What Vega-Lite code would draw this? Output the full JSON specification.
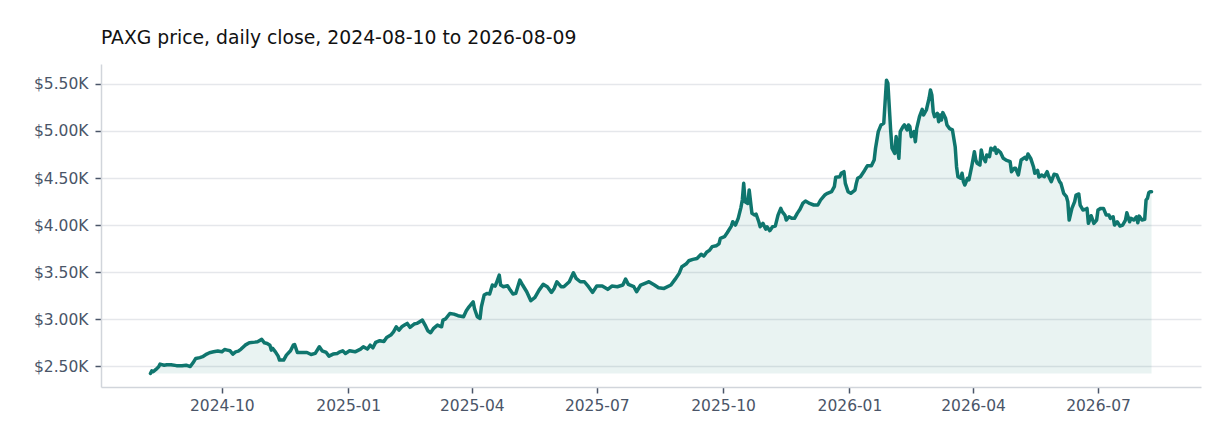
{
  "$schema": "https://vega.github.io/schema/vega-lite/v6.json",
  "width": 1100,
  "height": 323,
  "autosize": {"type": "none"},
  "padding": {"left": 101, "top": 64, "right": 31, "bottom": 61},
  "background": "white",
  "title": {
    "text": "PAXG price, daily close, 2024-08-10 to 2026-08-09",
    "anchor": "start",
    "frame": "group",
    "font": "DejaVu Sans",
    "fontSize": 18.8,
    "fontWeight": "normal",
    "color": "#111111",
    "offset": 16
  },
  "data": {
    "values": [
      {"date": "2024-08-10", "close": 2422},
      {"date": "2024-08-11", "close": 2450},
      {"date": "2024-08-12", "close": 2440},
      {"date": "2024-08-14", "close": 2465},
      {"date": "2024-08-16", "close": 2493},
      {"date": "2024-08-17", "close": 2521},
      {"date": "2024-08-20", "close": 2510},
      {"date": "2024-08-22", "close": 2515},
      {"date": "2024-08-25", "close": 2515},
      {"date": "2024-08-29", "close": 2505},
      {"date": "2024-09-02", "close": 2503},
      {"date": "2024-09-05", "close": 2510},
      {"date": "2024-09-08", "close": 2495},
      {"date": "2024-09-10", "close": 2535},
      {"date": "2024-09-12", "close": 2582},
      {"date": "2024-09-15", "close": 2590},
      {"date": "2024-09-17", "close": 2600},
      {"date": "2024-09-20", "close": 2628},
      {"date": "2024-09-22", "close": 2642},
      {"date": "2024-09-25", "close": 2652},
      {"date": "2024-09-28", "close": 2660},
      {"date": "2024-10-01", "close": 2652},
      {"date": "2024-10-03", "close": 2677},
      {"date": "2024-10-05", "close": 2670},
      {"date": "2024-10-07", "close": 2663},
      {"date": "2024-10-09", "close": 2628},
      {"date": "2024-10-11", "close": 2652},
      {"date": "2024-10-13", "close": 2660},
      {"date": "2024-10-15", "close": 2681},
      {"date": "2024-10-18", "close": 2723},
      {"date": "2024-10-21", "close": 2748},
      {"date": "2024-10-25", "close": 2755},
      {"date": "2024-10-27", "close": 2760},
      {"date": "2024-10-30", "close": 2784},
      {"date": "2024-11-01", "close": 2748},
      {"date": "2024-11-03", "close": 2741},
      {"date": "2024-11-05", "close": 2723},
      {"date": "2024-11-06", "close": 2670},
      {"date": "2024-11-07", "close": 2688},
      {"date": "2024-11-09", "close": 2652},
      {"date": "2024-11-11", "close": 2606},
      {"date": "2024-11-12", "close": 2564},
      {"date": "2024-11-15", "close": 2564},
      {"date": "2024-11-17", "close": 2617},
      {"date": "2024-11-20", "close": 2663},
      {"date": "2024-11-22", "close": 2723},
      {"date": "2024-11-23", "close": 2730},
      {"date": "2024-11-25", "close": 2645},
      {"date": "2024-11-28", "close": 2645},
      {"date": "2024-12-02", "close": 2645},
      {"date": "2024-12-05", "close": 2624},
      {"date": "2024-12-08", "close": 2635},
      {"date": "2024-12-11", "close": 2706},
      {"date": "2024-12-13", "close": 2663},
      {"date": "2024-12-16", "close": 2645},
      {"date": "2024-12-18", "close": 2606},
      {"date": "2024-12-21", "close": 2628},
      {"date": "2024-12-24", "close": 2635},
      {"date": "2024-12-26", "close": 2652},
      {"date": "2024-12-28", "close": 2663},
      {"date": "2024-12-30", "close": 2635},
      {"date": "2025-01-02", "close": 2663},
      {"date": "2025-01-06", "close": 2652},
      {"date": "2025-01-10", "close": 2681},
      {"date": "2025-01-12", "close": 2706},
      {"date": "2025-01-15", "close": 2681},
      {"date": "2025-01-17", "close": 2723},
      {"date": "2025-01-19", "close": 2695},
      {"date": "2025-01-21", "close": 2752},
      {"date": "2025-01-24", "close": 2770},
      {"date": "2025-01-27", "close": 2762},
      {"date": "2025-01-29", "close": 2805},
      {"date": "2025-02-01", "close": 2830},
      {"date": "2025-02-03", "close": 2865},
      {"date": "2025-02-05", "close": 2918},
      {"date": "2025-02-07", "close": 2883},
      {"date": "2025-02-09", "close": 2918},
      {"date": "2025-02-11", "close": 2936},
      {"date": "2025-02-13", "close": 2954},
      {"date": "2025-02-15", "close": 2912},
      {"date": "2025-02-18", "close": 2947},
      {"date": "2025-02-20", "close": 2954},
      {"date": "2025-02-24", "close": 2989},
      {"date": "2025-02-26", "close": 2936},
      {"date": "2025-02-28", "close": 2876},
      {"date": "2025-03-02", "close": 2855},
      {"date": "2025-03-04", "close": 2898},
      {"date": "2025-03-07", "close": 2936},
      {"date": "2025-03-10", "close": 2918},
      {"date": "2025-03-11", "close": 2989},
      {"date": "2025-03-13", "close": 3003},
      {"date": "2025-03-16", "close": 3060},
      {"date": "2025-03-19", "close": 3053},
      {"date": "2025-03-22", "close": 3036},
      {"date": "2025-03-26", "close": 3025},
      {"date": "2025-03-28", "close": 3088},
      {"date": "2025-03-30", "close": 3131},
      {"date": "2025-04-02", "close": 3184},
      {"date": "2025-04-03", "close": 3110},
      {"date": "2025-04-05", "close": 3025},
      {"date": "2025-04-07", "close": 3007},
      {"date": "2025-04-08", "close": 3131},
      {"date": "2025-04-10", "close": 3255},
      {"date": "2025-04-12", "close": 3273},
      {"date": "2025-04-14", "close": 3266},
      {"date": "2025-04-16", "close": 3362},
      {"date": "2025-04-18", "close": 3351},
      {"date": "2025-04-19", "close": 3386},
      {"date": "2025-04-21", "close": 3468},
      {"date": "2025-04-22", "close": 3362},
      {"date": "2025-04-24", "close": 3344},
      {"date": "2025-04-27", "close": 3355},
      {"date": "2025-04-29", "close": 3308},
      {"date": "2025-05-01", "close": 3266},
      {"date": "2025-05-03", "close": 3273},
      {"date": "2025-05-06", "close": 3415},
      {"date": "2025-05-08", "close": 3362},
      {"date": "2025-05-11", "close": 3291},
      {"date": "2025-05-14", "close": 3195},
      {"date": "2025-05-17", "close": 3231},
      {"date": "2025-05-20", "close": 3308},
      {"date": "2025-05-23", "close": 3369},
      {"date": "2025-05-26", "close": 3344},
      {"date": "2025-05-29", "close": 3284},
      {"date": "2025-05-31", "close": 3326},
      {"date": "2025-06-02", "close": 3397},
      {"date": "2025-06-05", "close": 3344},
      {"date": "2025-06-07", "close": 3344},
      {"date": "2025-06-11", "close": 3397},
      {"date": "2025-06-14", "close": 3493},
      {"date": "2025-06-16", "close": 3433},
      {"date": "2025-06-19", "close": 3397},
      {"date": "2025-06-22", "close": 3397},
      {"date": "2025-06-25", "close": 3344},
      {"date": "2025-06-28", "close": 3284},
      {"date": "2025-07-01", "close": 3351},
      {"date": "2025-07-05", "close": 3351},
      {"date": "2025-07-09", "close": 3316},
      {"date": "2025-07-12", "close": 3351},
      {"date": "2025-07-16", "close": 3344},
      {"date": "2025-07-20", "close": 3362},
      {"date": "2025-07-22", "close": 3426},
      {"date": "2025-07-24", "close": 3369},
      {"date": "2025-07-28", "close": 3344},
      {"date": "2025-07-30", "close": 3291},
      {"date": "2025-08-02", "close": 3362},
      {"date": "2025-08-06", "close": 3386},
      {"date": "2025-08-08", "close": 3397},
      {"date": "2025-08-12", "close": 3362},
      {"date": "2025-08-15", "close": 3333},
      {"date": "2025-08-19", "close": 3326},
      {"date": "2025-08-24", "close": 3362},
      {"date": "2025-08-27", "close": 3422},
      {"date": "2025-08-30", "close": 3486},
      {"date": "2025-09-01", "close": 3557},
      {"date": "2025-09-04", "close": 3585},
      {"date": "2025-09-06", "close": 3620},
      {"date": "2025-09-09", "close": 3635},
      {"date": "2025-09-12", "close": 3645},
      {"date": "2025-09-15", "close": 3690},
      {"date": "2025-09-17", "close": 3670},
      {"date": "2025-09-19", "close": 3710},
      {"date": "2025-09-21", "close": 3730},
      {"date": "2025-09-23", "close": 3770},
      {"date": "2025-09-26", "close": 3780},
      {"date": "2025-09-28", "close": 3800},
      {"date": "2025-09-29", "close": 3858},
      {"date": "2025-10-02", "close": 3876},
      {"date": "2025-10-04", "close": 3918},
      {"date": "2025-10-07", "close": 3989},
      {"date": "2025-10-08", "close": 4035},
      {"date": "2025-10-10", "close": 4000},
      {"date": "2025-10-12", "close": 4071},
      {"date": "2025-10-14", "close": 4188},
      {"date": "2025-10-15", "close": 4266},
      {"date": "2025-10-16", "close": 4443},
      {"date": "2025-10-17", "close": 4248},
      {"date": "2025-10-19", "close": 4230},
      {"date": "2025-10-20", "close": 4372},
      {"date": "2025-10-22", "close": 4124},
      {"date": "2025-10-24", "close": 4106},
      {"date": "2025-10-25", "close": 4117},
      {"date": "2025-10-27", "close": 4035},
      {"date": "2025-10-28", "close": 3982},
      {"date": "2025-10-30", "close": 4018},
      {"date": "2025-11-01", "close": 3957},
      {"date": "2025-11-02", "close": 3982},
      {"date": "2025-11-04", "close": 3940},
      {"date": "2025-11-06", "close": 3982},
      {"date": "2025-11-08", "close": 3989},
      {"date": "2025-11-10", "close": 4106},
      {"date": "2025-11-12", "close": 4177},
      {"date": "2025-11-13", "close": 4142},
      {"date": "2025-11-15", "close": 4106},
      {"date": "2025-11-16", "close": 4053},
      {"date": "2025-11-18", "close": 4088},
      {"date": "2025-11-20", "close": 4071},
      {"date": "2025-11-22", "close": 4071},
      {"date": "2025-11-24", "close": 4124},
      {"date": "2025-11-26", "close": 4167},
      {"date": "2025-11-28", "close": 4230},
      {"date": "2025-11-30", "close": 4255},
      {"date": "2025-12-03", "close": 4230},
      {"date": "2025-12-06", "close": 4213},
      {"date": "2025-12-09", "close": 4213},
      {"date": "2025-12-11", "close": 4266},
      {"date": "2025-12-14", "close": 4319},
      {"date": "2025-12-16", "close": 4337},
      {"date": "2025-12-19", "close": 4355},
      {"date": "2025-12-21", "close": 4408},
      {"date": "2025-12-22", "close": 4507},
      {"date": "2025-12-25", "close": 4514},
      {"date": "2025-12-26", "close": 4550},
      {"date": "2025-12-28", "close": 4567},
      {"date": "2025-12-29", "close": 4443},
      {"date": "2025-12-31", "close": 4355},
      {"date": "2026-01-02", "close": 4337},
      {"date": "2026-01-05", "close": 4372},
      {"date": "2026-01-06", "close": 4443},
      {"date": "2026-01-07", "close": 4497},
      {"date": "2026-01-09", "close": 4514},
      {"date": "2026-01-12", "close": 4580},
      {"date": "2026-01-14", "close": 4630},
      {"date": "2026-01-17", "close": 4630},
      {"date": "2026-01-19", "close": 4691},
      {"date": "2026-01-20", "close": 4816},
      {"date": "2026-01-22", "close": 4993},
      {"date": "2026-01-24", "close": 5064},
      {"date": "2026-01-26", "close": 5082},
      {"date": "2026-01-27", "close": 5316},
      {"date": "2026-01-28", "close": 5540},
      {"date": "2026-01-29", "close": 5507},
      {"date": "2026-01-31", "close": 5011},
      {"date": "2026-02-01", "close": 4816},
      {"date": "2026-02-03", "close": 4762},
      {"date": "2026-02-04", "close": 4940},
      {"date": "2026-02-06", "close": 4709},
      {"date": "2026-02-07", "close": 4993},
      {"date": "2026-02-09", "close": 5046},
      {"date": "2026-02-10", "close": 5064},
      {"date": "2026-02-12", "close": 5011},
      {"date": "2026-02-13", "close": 5064},
      {"date": "2026-02-14", "close": 5046},
      {"date": "2026-02-15", "close": 4940},
      {"date": "2026-02-17", "close": 4993},
      {"date": "2026-02-18", "close": 4886},
      {"date": "2026-02-19", "close": 5028},
      {"date": "2026-02-21", "close": 5152},
      {"date": "2026-02-23", "close": 5230},
      {"date": "2026-02-24", "close": 5170},
      {"date": "2026-02-26", "close": 5223},
      {"date": "2026-02-28", "close": 5348},
      {"date": "2026-03-01", "close": 5436},
      {"date": "2026-03-02", "close": 5383},
      {"date": "2026-03-03", "close": 5205},
      {"date": "2026-03-04", "close": 5152},
      {"date": "2026-03-06", "close": 5188},
      {"date": "2026-03-07", "close": 5099},
      {"date": "2026-03-08", "close": 5170},
      {"date": "2026-03-09", "close": 5117},
      {"date": "2026-03-10", "close": 5195},
      {"date": "2026-03-12", "close": 5135},
      {"date": "2026-03-13", "close": 5064},
      {"date": "2026-03-15", "close": 5025},
      {"date": "2026-03-17", "close": 5011},
      {"date": "2026-03-19", "close": 4833},
      {"date": "2026-03-20", "close": 4620},
      {"date": "2026-03-21", "close": 4514},
      {"date": "2026-03-23", "close": 4497},
      {"date": "2026-03-24", "close": 4550},
      {"date": "2026-03-25", "close": 4461},
      {"date": "2026-03-26", "close": 4425},
      {"date": "2026-03-28", "close": 4497},
      {"date": "2026-03-29", "close": 4479},
      {"date": "2026-03-31", "close": 4620},
      {"date": "2026-04-02", "close": 4780},
      {"date": "2026-04-03", "close": 4691},
      {"date": "2026-04-04", "close": 4656},
      {"date": "2026-04-06", "close": 4638},
      {"date": "2026-04-07", "close": 4798},
      {"date": "2026-04-08", "close": 4727},
      {"date": "2026-04-10", "close": 4674},
      {"date": "2026-04-11", "close": 4745},
      {"date": "2026-04-13", "close": 4727},
      {"date": "2026-04-14", "close": 4816},
      {"date": "2026-04-16", "close": 4798},
      {"date": "2026-04-17", "close": 4826},
      {"date": "2026-04-18", "close": 4762},
      {"date": "2026-04-19", "close": 4798},
      {"date": "2026-04-21", "close": 4770},
      {"date": "2026-04-23", "close": 4709},
      {"date": "2026-04-25", "close": 4691},
      {"date": "2026-04-28", "close": 4674},
      {"date": "2026-04-29", "close": 4567},
      {"date": "2026-05-01", "close": 4603},
      {"date": "2026-05-02", "close": 4603},
      {"date": "2026-05-04", "close": 4532},
      {"date": "2026-05-06", "close": 4691},
      {"date": "2026-05-09", "close": 4720},
      {"date": "2026-05-10", "close": 4698},
      {"date": "2026-05-11", "close": 4755},
      {"date": "2026-05-13", "close": 4709},
      {"date": "2026-05-15", "close": 4620},
      {"date": "2026-05-16", "close": 4550},
      {"date": "2026-05-18", "close": 4580},
      {"date": "2026-05-19", "close": 4510},
      {"date": "2026-05-21", "close": 4532},
      {"date": "2026-05-23", "close": 4514},
      {"date": "2026-05-25", "close": 4567},
      {"date": "2026-05-26", "close": 4521},
      {"date": "2026-05-28", "close": 4461},
      {"date": "2026-05-30", "close": 4540},
      {"date": "2026-06-01", "close": 4532},
      {"date": "2026-06-03", "close": 4461},
      {"date": "2026-06-04", "close": 4443},
      {"date": "2026-06-06", "close": 4337},
      {"date": "2026-06-08", "close": 4302},
      {"date": "2026-06-09", "close": 4248},
      {"date": "2026-06-10", "close": 4053},
      {"date": "2026-06-12", "close": 4177},
      {"date": "2026-06-14", "close": 4248},
      {"date": "2026-06-15", "close": 4319},
      {"date": "2026-06-17", "close": 4330},
      {"date": "2026-06-18", "close": 4212},
      {"date": "2026-06-20", "close": 4160},
      {"date": "2026-06-22", "close": 4167},
      {"date": "2026-06-23", "close": 4177},
      {"date": "2026-06-24", "close": 4018},
      {"date": "2026-06-26", "close": 4099},
      {"date": "2026-06-28", "close": 4018},
      {"date": "2026-06-30", "close": 4053},
      {"date": "2026-07-01", "close": 4160},
      {"date": "2026-07-03", "close": 4177},
      {"date": "2026-07-05", "close": 4177},
      {"date": "2026-07-07", "close": 4106},
      {"date": "2026-07-09", "close": 4106},
      {"date": "2026-07-10", "close": 4071},
      {"date": "2026-07-12", "close": 4088},
      {"date": "2026-07-13", "close": 4000},
      {"date": "2026-07-15", "close": 4035},
      {"date": "2026-07-17", "close": 3989},
      {"date": "2026-07-19", "close": 4000},
      {"date": "2026-07-21", "close": 4053},
      {"date": "2026-07-22", "close": 4131},
      {"date": "2026-07-24", "close": 4035},
      {"date": "2026-07-25", "close": 4071},
      {"date": "2026-07-27", "close": 4053},
      {"date": "2026-07-29", "close": 4088},
      {"date": "2026-07-30", "close": 4024},
      {"date": "2026-07-31", "close": 4095},
      {"date": "2026-08-02", "close": 4053},
      {"date": "2026-08-04", "close": 4060},
      {"date": "2026-08-05", "close": 4266},
      {"date": "2026-08-06", "close": 4284},
      {"date": "2026-08-07", "close": 4344},
      {"date": "2026-08-08", "close": 4355},
      {"date": "2026-08-09", "close": 4355}
    ]
  },
  "transform": [
    {"joinaggregate": [{"op": "min", "field": "close", "as": "low"}]}
  ],
  "encoding": {
    "x": {
      "field": "date",
      "type": "temporal",
      "scale": {
        "type": "utc",
        "domain": [
          {"year": 2024, "month": 7, "date": 5, "utc": true},
          {"year": 2026, "month": 9, "date": 14, "utc": true}
        ]
      },
      "axis": {
        "title": null,
        "grid": false,
        "tickCount": {"interval": "month", "step": 3},
        "labelExpr": "utcFormat(datum.value, '%Y-%m')",
        "labelPadding": 5
      }
    },
    "y": {
      "field": "close",
      "type": "quantitative",
      "scale": {"domain": [2278, 5712], "zero": false, "nice": false},
      "axis": {
        "title": null,
        "grid": true,
        "values": [2500, 3000, 3500, 4000, 4500, 5000, 5500],
        "labelExpr": "'$' + format(datum.value / 1000, '.2f') + 'K'",
        "labelPadding": 7
      }
    }
  },
  "layer": [
    {
      "mark": {"type": "area", "color": "#0f766e", "opacity": 0.09},
      "encoding": {"y2": {"field": "low"}}
    },
    {
      "mark": {"type": "line", "color": "#0f766e", "strokeWidth": 3.5, "strokeJoin": "round", "strokeCap": "round"},
      "encoding": {}
    }
  ],
  "config": {
    "view": {"stroke": null},
    "font": "DejaVu Sans",
    "axis": {
      "labelFont": "DejaVu Sans",
      "labelFontSize": 15.5,
      "labelColor": "#4a5568",
      "domainColor": "#d1d5db",
      "domainWidth": 1.5,
      "tickColor": "#4a5568",
      "tickWidth": 1.5,
      "tickSize": 6,
      "gridColor": "#e5e7eb",
      "gridWidth": 1.5
    }
  }
}
